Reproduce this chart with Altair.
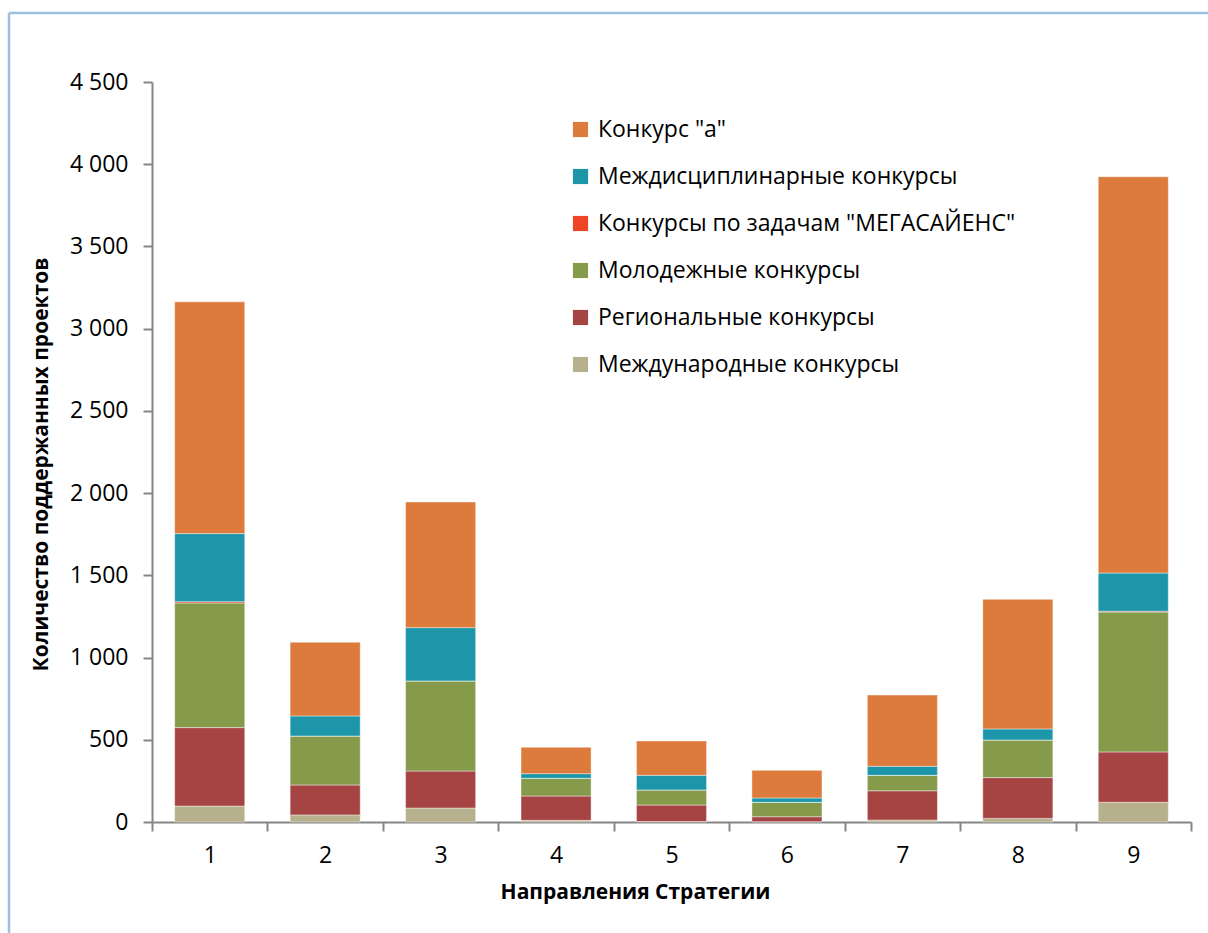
import altair as alt
import pandas as pd

# Направления Стратегии (categories on the x axis)
categories = ["1", "2", "3", "4", "5", "6", "7", "8", "9"]

# Number of supported projects per competition type, bottom to top of each stack
international = [97, 43, 85, 10, 3, 2, 12, 22, 120]
regional = [477, 182, 225, 148, 100, 30, 178, 248, 306]
youth = [758, 298, 548, 108, 92, 88, 94, 229, 851]
megascience = [8, 0, 0, 0, 0, 0, 0, 0, 5]
interdisciplinary = [414, 122, 324, 28, 89, 26, 55, 67, 232]
konkurs_a = [1409, 448, 764, 160, 209, 168, 433, 788, 2410]

series_names = [
    "Международные конкурсы",
    "Региональные конкурсы",
    "Молодежные конкурсы",
    'Конкурсы по задачам "МЕГАСАЙЕНС"',
    "Междисциплинарные конкурсы",
    'Конкурс "а"',
]
series_values = [international, regional, youth, megascience, interdisciplinary, konkurs_a]
series_colors = ["#B7B08C", "#A64444", "#869A4C", "#EE4526", "#1E96AA", "#DC7B3C"]

rows = []
for idx, (name, vals) in enumerate(zip(series_names, series_values)):
    for cat, v in zip(categories, vals):
        rows.append({"cat": cat, "series": name, "value": v, "stack_idx": idx})
df = pd.DataFrame(rows)

# legend lists the top segment first
legend_order = list(reversed(series_names))
legend_colors = list(reversed(series_colors))

FONT = "Open Sans"

bars = (
    alt.Chart(df)
    .mark_bar(width=alt.RelativeBandSize(0.607), stroke="white", strokeWidth=0.7, strokeOpacity=0.6)
    .encode(
        x=alt.X(
            "cat:N",
            sort=categories,
            scale=alt.Scale(paddingInner=0, paddingOuter=0),
            axis=alt.Axis(
                title="Направления Стратегии",
                labelAngle=0,
                tickBand="extent",
                tickSize=9,
                labelPadding=13,
                titlePadding=14,
                titleX=483,
                titleAnchor="start",
                titleAlign="center",
            ),
        ),
        y=alt.Y(
            "value:Q",
            stack="zero",
            scale=alt.Scale(domain=[0, 4500], nice=False),
            axis=alt.Axis(
                title="Количество поддержанных проектов",
                values=list(range(0, 4501, 500)),
                labelExpr="replace(format(datum.value, ','), ',', ' ')",
                tickSize=9,
                labelPadding=15,
                titlePadding=18,
                titleY=382,
                titleAlign="center",
                grid=False,
            ),
        ),
        color=alt.Color(
            "series:N",
            scale=alt.Scale(domain=legend_order, range=legend_colors),
            legend=alt.Legend(
                title=None,
                orient="none",
                legendX=417,
                legendY=36,
                symbolType="square",
                symbolSize=230,
                symbolStrokeWidth=0,
                labelFontSize=23,
                labelFont=FONT,
                labelColor="#000000",
                rowPadding=23,
                labelOffset=6,
                labelLimit=700,
            ),
        ),
        order=alt.Order("stack_idx:Q", sort="ascending"),
    )
)

frame_src = pd.DataFrame({"k": [0]})
frame_left = alt.Chart(frame_src).mark_rule(color="#9DC0E0", strokeWidth=2.5).encode(
    x=alt.value(-143), y=alt.value(-69), y2=alt.value(900)
)
frame_top = alt.Chart(frame_src).mark_rule(color="#9DC0E0", strokeWidth=2.5).encode(
    x=alt.value(-143), x2=alt.value(1200), y=alt.value(-69)
)

chart = (
    alt.layer(bars, frame_left, frame_top)
    .properties(
        width=1039,
        height=740,
        autosize=alt.AutoSizeParams(type="none"),
        padding={"left": 152, "top": 82, "right": 17, "bottom": 111},
        background="white",
    )
    .configure_view(stroke=None)
    .configure_axis(
        domainColor="#868686",
        tickColor="#868686",
        domainWidth=2,
        tickWidth=2,
        labelFont=FONT,
        labelFontSize=23,
        labelColor="#000000",
        titleFont=FONT,
        titleFontSize=21,
        titleFontWeight="bold",
        titleColor="#000000",
    )
)

chart.save("out.html", embed_options={"renderer": "svg", "actions": False})
